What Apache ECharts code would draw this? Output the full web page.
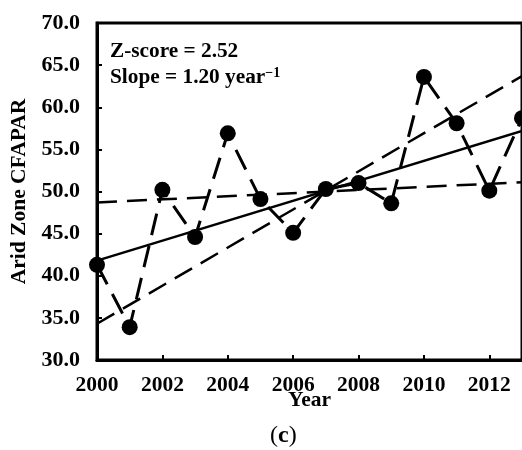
<!DOCTYPE html>
<html>
<head>
<meta charset="utf-8">
<script src="https://cdn.jsdelivr.net/npm/echarts@6/dist/echarts.min.js"></script>
<style>html,body{margin:0;padding:0;background:#fff;}#c{width:522px;height:450px;}</style>
</head>
<body>
<div id="c"></div>
<script>
const years = [2000, 2001, 2002, 2003, 2004, 2005, 2006, 2007, 2008, 2009, 2010, 2011, 2012, 2013];
const cfapar = [41.3, 33.9, 50.2, 44.6, 56.9, 49.1, 45.1, 50.3, 51.0, 48.6, 63.6, 58.1, 50.1, 58.7];
const trendYears = [2000, 2013];
const solidTrend = [41.8, 57.2];
const steepTrend = [34.3, 63.7];
const flatTrend = [48.7, 51.1];
const statLines = ['Z-score = 2.52', 'Slope = 1.20 year'];

const font = 'Liberation Serif';
const chart = echarts.init(document.getElementById('c'), null, {renderer: 'canvas'});
const pairs = (xs, ys) => xs.map((x, i) => [x, ys[i]]);

chart.setOption({
  animation: false,
  backgroundColor: '#fff',
  grid: {left: 97, top: 23, width: 429, height: 337, show: true, borderColor: '#000', borderWidth: 3, backgroundColor: 'transparent'},
  xAxis: {
    type: 'value', min: 2000, max: 2013, interval: 2,
    name: 'Year', nameLocation: 'middle', nameGap: 29, nameMoveOverlap: false,
    nameTextStyle: {fontFamily: font, fontWeight: 'bold', fontSize: 21.5, color: '#000'},
    axisLine: {lineStyle: {color: '#000', width: 3}},
    axisTick: {inside: true, length: 5, lineStyle: {color: '#000', width: 2}},
    axisLabel: {margin: 14, showMaxLabel: false, fontFamily: font, fontWeight: 'bold', fontSize: 21.5, color: '#000', formatter: v => String(v)},
    splitLine: {show: false}
  },
  yAxis: {
    type: 'value', min: 30, max: 70, interval: 5,
    name: 'Arid Zone CFAPAR', nameLocation: 'middle', nameGap: 65,
    nameTextStyle: {fontFamily: font, fontWeight: 'bold', fontSize: 21.5, color: '#000'},
    axisLine: {show: true, lineStyle: {color: '#000', width: 3}},
    axisTick: {show: true, inside: true, length: 5, lineStyle: {color: '#000', width: 2}},
    axisLabel: {margin: 17, fontFamily: font, fontWeight: 'bold', fontSize: 22, color: '#000', formatter: v => v.toFixed(1)},
    splitLine: {show: false}
  },
  series: [
    {type: 'line', data: pairs(trendYears, solidTrend), symbol: 'none', lineStyle: {color: '#000', width: 2.5, type: 'solid'}},
    {type: 'line', data: pairs(trendYears, steepTrend), symbol: 'none', lineStyle: {color: '#000', width: 2.5, type: [20, 10]}},
    {type: 'line', data: pairs(trendYears, flatTrend), symbol: 'none', lineStyle: {color: '#000', width: 2.5, type: [20, 10]}},
    {type: 'line', data: pairs(years, cfapar), symbol: 'circle', symbolSize: 16,
     itemStyle: {color: '#000'}, lineStyle: {color: '#000', width: 3, type: [22, 11]}}
  ],
  graphic: [
    {type: 'text', left: 110, top: 41, style: {text: statLines[0], fontFamily: font, fontWeight: 'bold', fontSize: 21.3, fill: '#000'}},
    {type: 'text', left: 110, top: 66, style: {text: '{a|' + statLines[1] + '}{s|−1}', rich: {
      a: {fontFamily: font, fontWeight: 'bold', fontSize: 21.3, fill: '#000'},
      s: {fontFamily: font, fontWeight: 'bold', fontSize: 14, fill: '#000', verticalAlign: 'top', padding: [0, 0, 8, 0]}
    }}},
    {type: 'text', left: 270, top: 424, style: {text: '{p|(}{c|c}{p|)}', rich: {
      p: {fontFamily: font, fontSize: 24, fill: '#000'},
      c: {fontFamily: font, fontWeight: 'bold', fontSize: 24, fill: '#000'}
    }}}
  ]
});
</script>
</body>
</html>
